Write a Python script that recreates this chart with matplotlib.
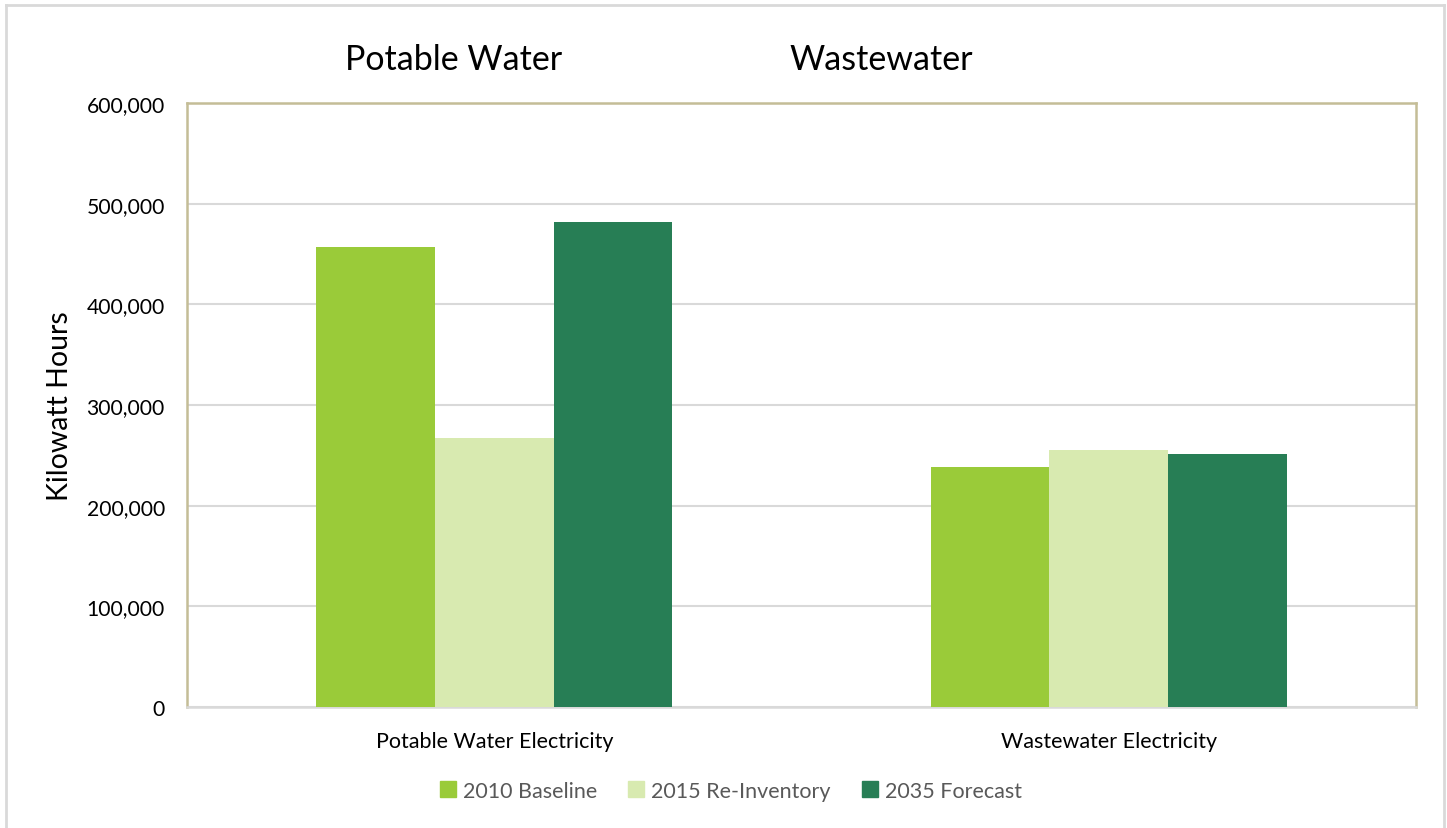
import matplotlib
matplotlib.use("Agg")
import matplotlib.pyplot as plt
from matplotlib.lines import Line2D
import numpy as np

categories = ["Potable Water Electricity", "Wastewater Electricity"]
series_names = ["2010 Baseline", "2015 Re-Inventory", "2035 Forecast"]
values_2010 = [457000, 238000]
values_2015 = [267000, 255000]
values_2035 = [482000, 251000]
colors = ["#9ACB39", "#D8EAB0", "#277E55"]
yticks = [0, 100000, 200000, 300000, 400000, 500000, 600000]

plt.rcParams['font.family'] = ['Lato', 'DejaVu Sans']

fig = plt.figure(figsize=(14.47, 8.29), dpi=100)
ax = fig.add_axes([187/1447, 1-708/829, (1416-187)/1447, (708-104)/829])

x = np.arange(len(categories))
w = 0.193
for i, (vals, c, n) in enumerate(zip([values_2010, values_2015, values_2035], colors, series_names)):
    ax.bar(x + (i-1)*w, vals, width=w, color=c, label=n, zorder=3)

ax.set_xlim(-0.5, 1.5)
ax.set_ylim(0, 600000)
ax.set_yticks(yticks)
ax.set_yticklabels([f"{v:,}" for v in yticks], fontsize=15.2, color="black")
ax.set_xticks(x)
ax.set_xticklabels(categories, fontsize=15.5, color="black")
ax.tick_params(axis='both', length=0)
ax.tick_params(axis='y', pad=16)
ax.tick_params(axis='x', pad=17)
ax.grid(axis='y', color="#D9D9D9", linewidth=1.5, zorder=0)
for s in ['left', 'top', 'right']:
    ax.spines[s].set_color("#C4BD97")
    ax.spines[s].set_linewidth(1.8)
ax.spines['bottom'].set_color("#D9D9D9")
ax.spines['bottom'].set_linewidth(1.8)

fig.text(454/1447, 1-60/829, "Potable Water", fontsize=24.5, ha='center', va='center', color='black')
fig.text(881/1447, 1-60/829, "Wastewater", fontsize=24.5, ha='center', va='center', color='black')
fig.text(60/1447, 1-406/829, "Kilowatt Hours", fontsize=20.5, rotation=90, ha='center', va='center', color='black')

handles = [Line2D([0], [0], marker='s', linestyle='none', markersize=11, markerfacecolor=c, markeredgecolor=c) for c in colors]
fig.legend(handles, series_names, loc='center', bbox_to_anchor=(730/1447, 1-792/829), ncol=3,
           frameon=False, fontsize=15.5, labelcolor="#595959", handletextpad=0.25, columnspacing=1.35,
           handlelength=0.9)

# outer chart border
bc = "#D9D9D9"
fig.add_artist(Line2D([6/1447, 6/1447], [0, 1-6/829], transform=fig.transFigure, color=bc, lw=2))
fig.add_artist(Line2D([1444/1447, 1444/1447], [0, 1-6/829], transform=fig.transFigure, color=bc, lw=2))
fig.add_artist(Line2D([6/1447, 1444/1447], [1-6/829, 1-6/829], transform=fig.transFigure, color=bc, lw=2))

fig.savefig("out.png", dpi=100)
